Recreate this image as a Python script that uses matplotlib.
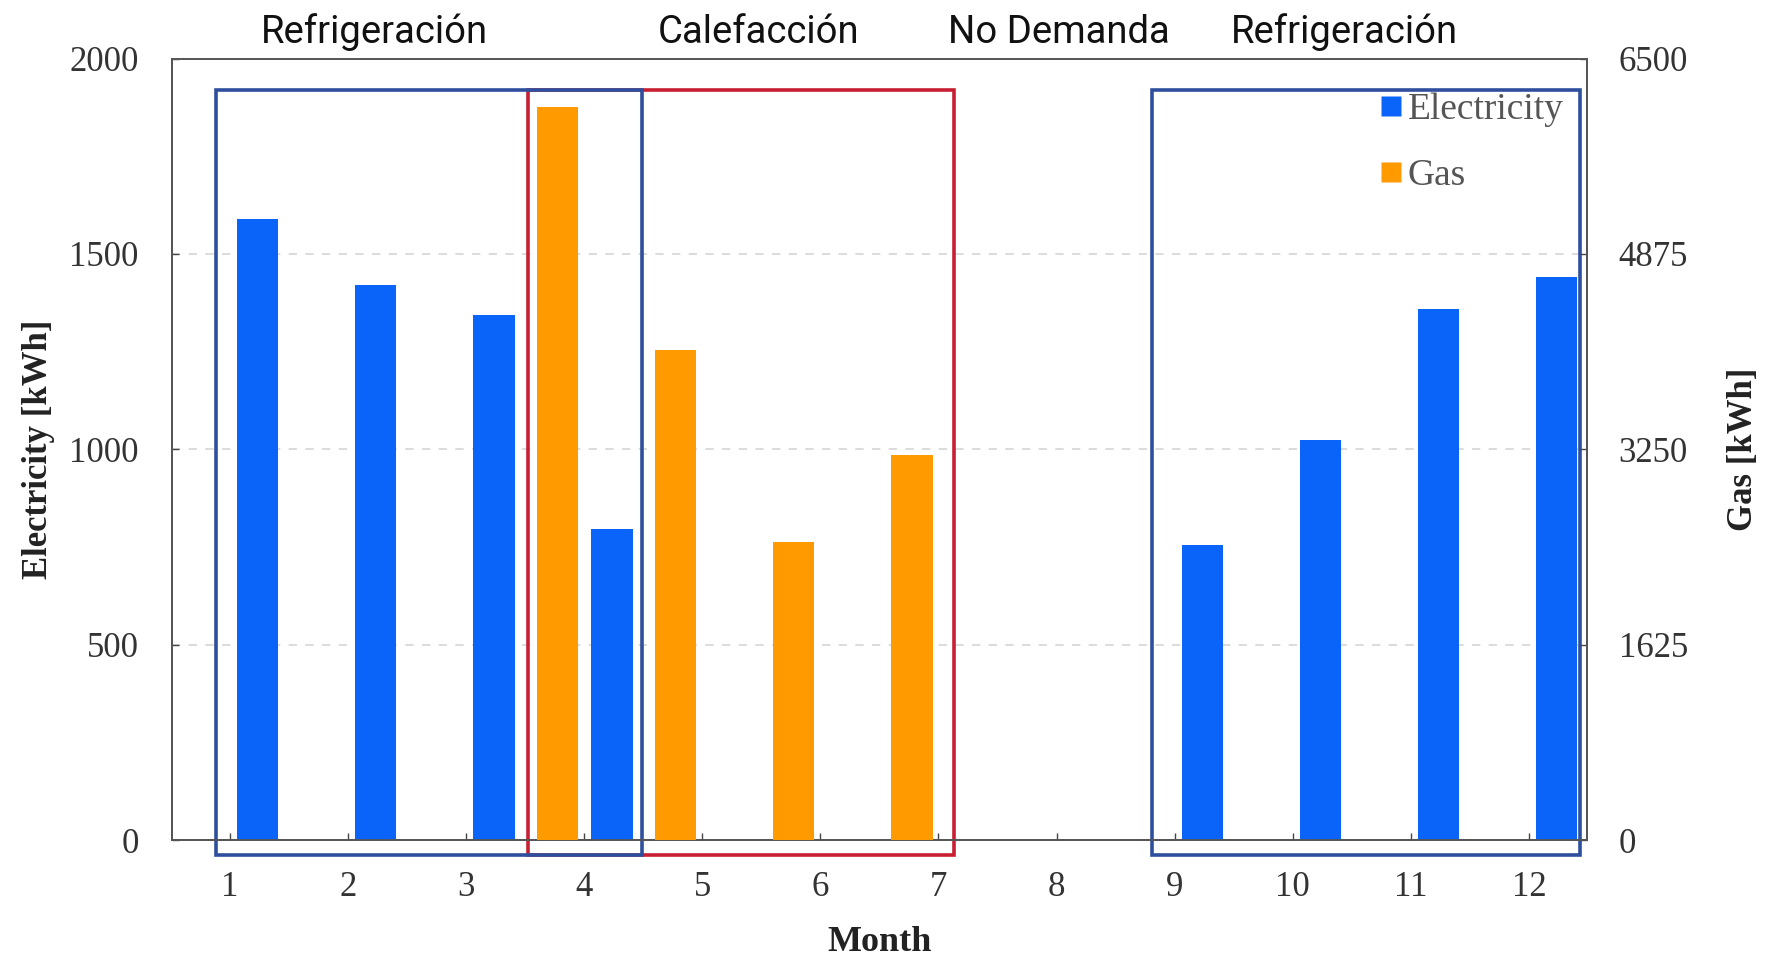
import numpy as np
import matplotlib.pyplot as plt
import matplotlib.transforms as mtransforms
from matplotlib.patches import Rectangle
from matplotlib.lines import Line2D


months = [1, 2, 3, 4, 5, 6, 7, 8, 9, 10, 11, 12]
electricity = [1590, 1420, 1345, 795, 0, 0, 0, 0, 755, 1025, 1360, 1440]   # kWh
gas = [0, 0, 0, 6100, 4080, 2480, 3200, 0, 0, 0, 0, 0]                      # kWh
left_ticks = [0, 500, 1000, 1500, 2000]
right_ticks = [0, 1625, 3250, 4875, 6500]
season_labels = ['Refrigeración', 'Calefacción', 'No Demanda', 'Refrigeración']

c_elec = '#0A64FA'
c_gas = '#FF9A00'
c_blue_box = '#2E4E9E'
c_red_box = '#C81E32'
serif = 'Liberation Serif'

fig = plt.figure(figsize=(17.67, 9.56), dpi=100)
ax = fig.add_axes([0.0974, 0.1213, 0.8006, 0.8174])
ax2 = ax.twinx()

x = np.array(months)
w = 0.35
ax.bar(x + 0.235, electricity, width=w, color=c_elec, zorder=3)
ax2.bar(x - 0.225, gas, width=w, color=c_gas, zorder=3)

ax.set_xlim(0.51, 12.49)
ax.set_ylim(0, 2000)
ax2.set_ylim(0, 6500)
ax.set_xticks(months)
ax.set_yticks(left_ticks)
ax2.set_yticks(right_ticks)

for a in (ax, ax2):
    a.tick_params(axis='both', direction='in', length=5, width=1, colors='#444444',
                  labelsize=25, labelcolor='#333333')
    for lab in a.get_xticklabels() + a.get_yticklabels():
        lab.set_fontfamily(serif)
    for s in a.spines.values():
        s.set_color('#555555')
        s.set_linewidth(1.3)
ax.tick_params(axis='y', pad=24)
ax2.tick_params(axis='y', pad=23)
ax.tick_params(axis='x', pad=22)
ax.spines['top'].set_color('#777777')

ax.yaxis.grid(True, linestyle=(0, (5, 5)), color='#d5d5d5', linewidth=1.2, zorder=0)
ax.set_axisbelow(True)

ax.set_xlabel('Month', fontfamily=serif, fontweight='bold', fontsize=26, color='#222222', labelpad=16)
ax.set_ylabel('Electricity [kWh]', fontfamily=serif, fontweight='bold', fontsize=25, color='#222222', labelpad=10)
ax2.set_ylabel('Gas [kWh]', fontfamily=serif, fontweight='bold', fontsize=25, color='#222222', labelpad=28)

# season boxes (data x, left-axis y), drawn over the bars
boxes = [(3.52, 7.135, c_red_box), (0.885, 4.49, c_blue_box), (8.805, 12.43, c_blue_box)]
for i, (x0, x1, col) in enumerate(boxes):
    ax.add_patch(Rectangle((x0, -38), x1 - x0, 1957, fill=False, edgecolor=col,
                           linewidth=2.6, clip_on=False, zorder=6 + i))

# season labels: x in data, y in figure fraction
trans = mtransforms.blended_transform_factory(ax.transData, fig.transFigure)
label_x = [2.22, 5.48, 8.02, 10.44]
for lx, txt in zip(label_x, season_labels):
    ax.text(lx, 0.966, txt, transform=trans, fontsize=27.5, fontfamily='Roboto',
            ha='center', va='center', color='#111111')

handles = [Line2D([0], [0], marker='s', color='none', markerfacecolor=c_elec, markeredgecolor='none', markersize=14),
           Line2D([0], [0], marker='s', color='none', markerfacecolor=c_gas, markeredgecolor='none', markersize=14)]
leg = ax.legend(handles, ['Electricity', 'Gas'], loc='upper left', bbox_to_anchor=(0.77, 0.923),
                bbox_transform=fig.transFigure, frameon=False, handlelength=0.6, handletextpad=0.15,
                labelspacing=0.85, prop={'family': serif, 'size': 27}, borderpad=0)
for t in leg.get_texts():
    t.set_color('#555555')
leg.set_zorder(10)

fig.savefig('out.png', dpi=100)
